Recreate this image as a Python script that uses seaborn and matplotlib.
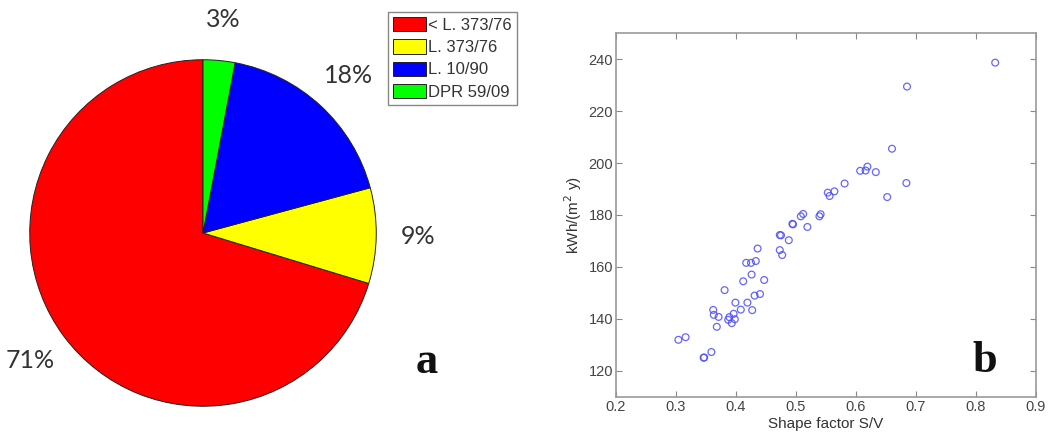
import math
import matplotlib
matplotlib.use("Agg")
import matplotlib.pyplot as plt
import seaborn as sns
import pandas as pd

# Share of buildings by the regulation in force when built (%)
regulations = ["< L. 373/76", "L. 373/76", "L. 10/90", "DPR 59/09"]
shares = [71, 9, 18, 3]
slice_colors = ["#ff0000", "#ffff00", "#0000ff", "#00ff00"]

# Energy demand against shape factor
shape_factor = [0.832, 0.685, 0.660, 0.619, 0.616, 0.607, 0.633, 0.684, 0.581, 0.564,
                0.553, 0.556, 0.652, 0.512, 0.508, 0.541, 0.539, 0.519, 0.494, 0.495,
                0.473, 0.475, 0.488, 0.473, 0.477, 0.436, 0.433, 0.417, 0.425, 0.426,
                0.447, 0.412, 0.381, 0.440, 0.431, 0.399, 0.419, 0.362, 0.408, 0.427,
                0.363, 0.371, 0.396, 0.389, 0.398, 0.387, 0.393, 0.368, 0.304, 0.316,
                0.359, 0.347, 0.346]
energy_demand = [238.6, 229.4, 205.5, 198.6, 197.1, 197.0, 196.5, 192.3, 192.1, 189.1,
                 188.6, 187.3, 186.9, 180.4, 179.5, 180.3, 179.5, 175.4, 176.6, 176.4,
                 172.3, 172.2, 170.3, 166.5, 164.6, 167.1, 162.3, 161.6, 161.6, 157.1,
                 155.0, 154.5, 151.1, 149.6, 149.0, 146.3, 146.3, 143.5, 143.6, 143.4,
                 141.6, 140.8, 142.0, 140.7, 139.9, 139.7, 138.4, 137.0, 132.0, 133.0,
                 127.3, 125.2, 125.1]
x_ticks = [0.2, 0.3, 0.4, 0.5, 0.6, 0.7, 0.8, 0.9]
y_ticks = [120, 140, 160, 180, 200, 220, 240]

sns.set_theme(style="white")
plt.rcParams["font.family"] = ["Liberation Sans", "DejaVu Sans"]

W, H = 1056, 438
fig = plt.figure(figsize=(W / 100, H / 100), dpi=100)

# ---- panel a: pie chart ----
cx, cy, r = 203, 233, 175
ax_pie = fig.add_axes([(cx - r) / W, (H - cy - r) / H, 2 * r / W, 2 * r / H])
wedges, _ = ax_pie.pie(shares, colors=slice_colors, startangle=90, counterclock=True,
                       wedgeprops=dict(edgecolor="#222222", linewidth=0.7))
for w, v in zip(wedges, shares):
    mid = math.radians((w.theta1 + w.theta2) / 2)
    ax_pie.text(1.24 * math.cos(mid), 1.24 * math.sin(mid), f"{v}%",
                ha="center", va="center", fontsize=18, color="#333333",
                family=["Lato", "DejaVu Sans"])
ax_pie.set_xlim(-1.01, 1.01)
ax_pie.set_ylim(-1.01, 1.01)
ax_pie.set_aspect("equal")

leg = fig.legend(wedges, regulations, loc="upper left",
                 bbox_to_anchor=(388 / W, 1 - 12 / H), bbox_transform=fig.transFigure,
                 fontsize=12, frameon=True, fancybox=False, framealpha=1,
                 edgecolor="#888888", handlelength=1.95, handleheight=0.95,
                 handletextpad=0.15, labelspacing=0.38, borderpad=0.3,
                 borderaxespad=0)
for t in leg.get_texts():
    t.set_color("#333333")
leg.get_frame().set_linewidth(1.0)

fig.text(427 / W, 1 - 362 / H, "a", ha="center", va="center", fontsize=32,
         fontweight="bold", family=["Liberation Serif", "DejaVu Serif"], color="#111111")

# ---- panel b: scatter ----
ax = fig.add_axes([616 / W, 1 - 397 / H, (1036 - 616) / W, (397 - 33) / H])
df = pd.DataFrame({"sv": shape_factor, "kwh": energy_demand})
sns.scatterplot(data=df, x="sv", y="kwh", ax=ax, marker="o", s=24,
                facecolors="none", edgecolor="#4b4bff", linewidth=0.9, alpha=0.85)
ax.set_xlim(0.2, 0.9)
ax.set_ylim(110, 250)
ax.set_xticks(x_ticks)
ax.set_xticklabels([f"{v:g}" for v in x_ticks])
ax.set_yticks(y_ticks)
ax.tick_params(direction="in", length=4, width=0.8, colors="#888888",
               labelcolor="#444444", labelsize=10.5, top=True, right=True,
               bottom=True, left=True, pad=2)
for s in ax.spines.values():
    s.set_color("#999999")
    s.set_linewidth(1.2)
ax.set_xlabel("Shape factor S/V", fontsize=11, color="#333333", labelpad=2)
ax.set_ylabel(r"kWh/(m$^2$ y)", fontsize=11, color="#333333", labelpad=3)

ax.text(0.879, 0.1, "b", transform=ax.transAxes, ha="center", va="center", fontsize=32,
        fontweight="bold", family=["Liberation Serif", "DejaVu Serif"], color="#111111")

fig.savefig("out.png", dpi=100)
